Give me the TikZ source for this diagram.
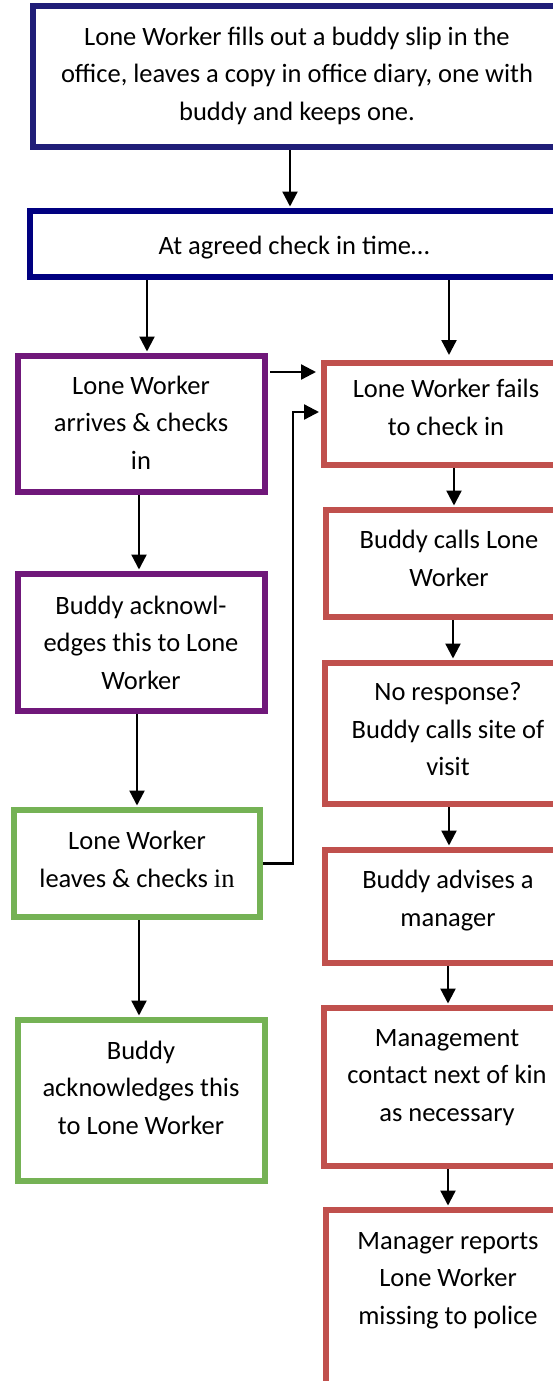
\documentclass[tikz,border=0pt]{standalone}
\usepackage{fontspec}
\setmainfont{Carlito}
\newfontfamily\timesfont{Liberation Serif}
\usetikzlibrary{arrows.meta}
\definecolor{topnavy}{RGB}{32,30,120}
\definecolor{chknavy}{RGB}{0,0,128}
\definecolor{lwpurple}{RGB}{112,24,122}
\definecolor{lwred}{RGB}{192,80,77}
\definecolor{lwgreen}{RGB}{117,178,85}
\newcommand\lwbox[6]{\node[box, draw=#2, minimum width={#5-#3}, minimum height={#6-#4}] (#1) at ({(#3+#5)/2},{(#4+#6)/2}) {};}
\begin{document}
\begin{tikzpicture}[x=1pt,y=-1pt,
  box/.style={rectangle, line width=6pt, fill=white, inner sep=0pt},
  txt/.style={font=\fontsize{26.5}{37.5}\selectfont, align=center, inner sep=0pt, yshift=-5pt,
    execute at begin node=\strut, execute at end node=\strut},
  conn/.style={line width=2.3pt, -{Triangle[length=15pt,width=15pt]}, shorten >=1.5pt}
]
\useasboundingbox (0,0) rectangle (553,1381);
\fill[white] (0,0) rectangle (553,1381);
\clip (0,0) rectangle (553,1381);

% boxes (border centre lines)
\lwbox{top}{topnavy}{33}{6.5}{600}{147}
\lwbox{checkin}{chknavy}{29.5}{211}{600}{277}
\lwbox{p1}{lwpurple}{18}{356}{265}{492}
\lwbox{p2}{lwpurple}{18}{574}{265}{711}
\lwbox{g1}{lwgreen}{14}{810}{260}{917}
\lwbox{g2}{lwgreen}{18}{1020}{265}{1181}
\lwbox{r1}{lwred}{324}{363}{600}{465}
\lwbox{r2}{lwred}{326}{510}{600}{617}
\lwbox{r3}{lwred}{325}{663}{600}{804}
\lwbox{r4}{lwred}{325}{850}{600}{963}
\lwbox{r5}{lwred}{324}{1008}{600}{1166}
\lwbox{r6}{lwred}{326}{1210}{600}{1400}

% texts
\node[txt] (ttop) at (297,74) {Lone Worker fills out a buddy slip in the\\office, leaves a copy in office diary, one with\\buddy and keeps one.};
\node[txt] (tcheck) at (294,242) {At agreed check in time…};
\node[txt] (tp1) at (141,423) {Lone Worker\\arrives \& checks\\in};
\node[txt] (tp2) at (141,643) {Buddy acknowl-\\edges this to Lone\\Worker};
\node[txt] (tg1) at (137,860) {Lone Worker\\leaves \& checks {\timesfont in}};
\node[txt] (tg2) at (141,1088) {Buddy\\acknowledges this\\to Lone Worker};
\node[txt] (tr1) at (446,408) {Lone Worker fails\\to check in};
\node[txt] (tr2) at (449,559) {Buddy calls Lone\\Worker};
\node[txt] (tr3) at (448,730) {No response?\\Buddy calls site of\\visit};
\node[txt] (tr4) at (448,899) {Buddy advises a\\manager};
\node[txt] (tr5) at (447,1076) {Management\\contact next of kin\\as necessary};
\node[txt] (tr6) at (448,1279) {Manager reports\\Lone Worker\\missing to police};

% connector columns / rows
\coordinate (xa) at (290,0);
\coordinate (xb) at (147,0);
\coordinate (xc) at (449,0);
\coordinate (xd) at (139,0);
\coordinate (xe) at (137,0);
\coordinate (xf) at (139,0);
\coordinate (xg) at (454,0);
\coordinate (xh) at (453,0);
\coordinate (xi) at (449,0);
\coordinate (xj) at (448,0);
\coordinate (xk) at (448,0);
\coordinate (xl) at (293,0);
\coordinate (ym) at (0,372);
\coordinate (yl) at (0,412);

% connectors
\draw[conn] (top.south -| xa) -- (checkin.north -| xa);
\draw[conn] (checkin.south -| xb) -- (p1.north -| xb);
\draw[conn, shorten >=5pt] (checkin.south -| xc) -- (r1.north -| xc);
\draw[conn, shorten <=2pt, shorten >=5pt] (p1.east |- ym) -- (r1.west |- ym);
\draw[conn] (p1.south -| xd) -- (p2.north -| xd);
\draw[conn] (p2.south -| xe) -- (g1.north -| xe);
\draw[conn] (g1.south -| xf) -- (g2.north -| xf);
\draw[conn, shorten >=2pt] (g1.east) -| (xl |- yl) -- (r1.west |- yl);
\draw[conn] (r1.south -| xg) -- (r2.north -| xg);
\draw[conn] (r2.south -| xh) -- (r3.north -| xh);
\draw[conn] (r3.south -| xi) -- (r4.north -| xi);
\draw[conn] (r4.south -| xj) -- (r5.north -| xj);
\draw[conn] (r5.south -| xk) -- (r6.north -| xk);
\end{tikzpicture}
\end{document}
